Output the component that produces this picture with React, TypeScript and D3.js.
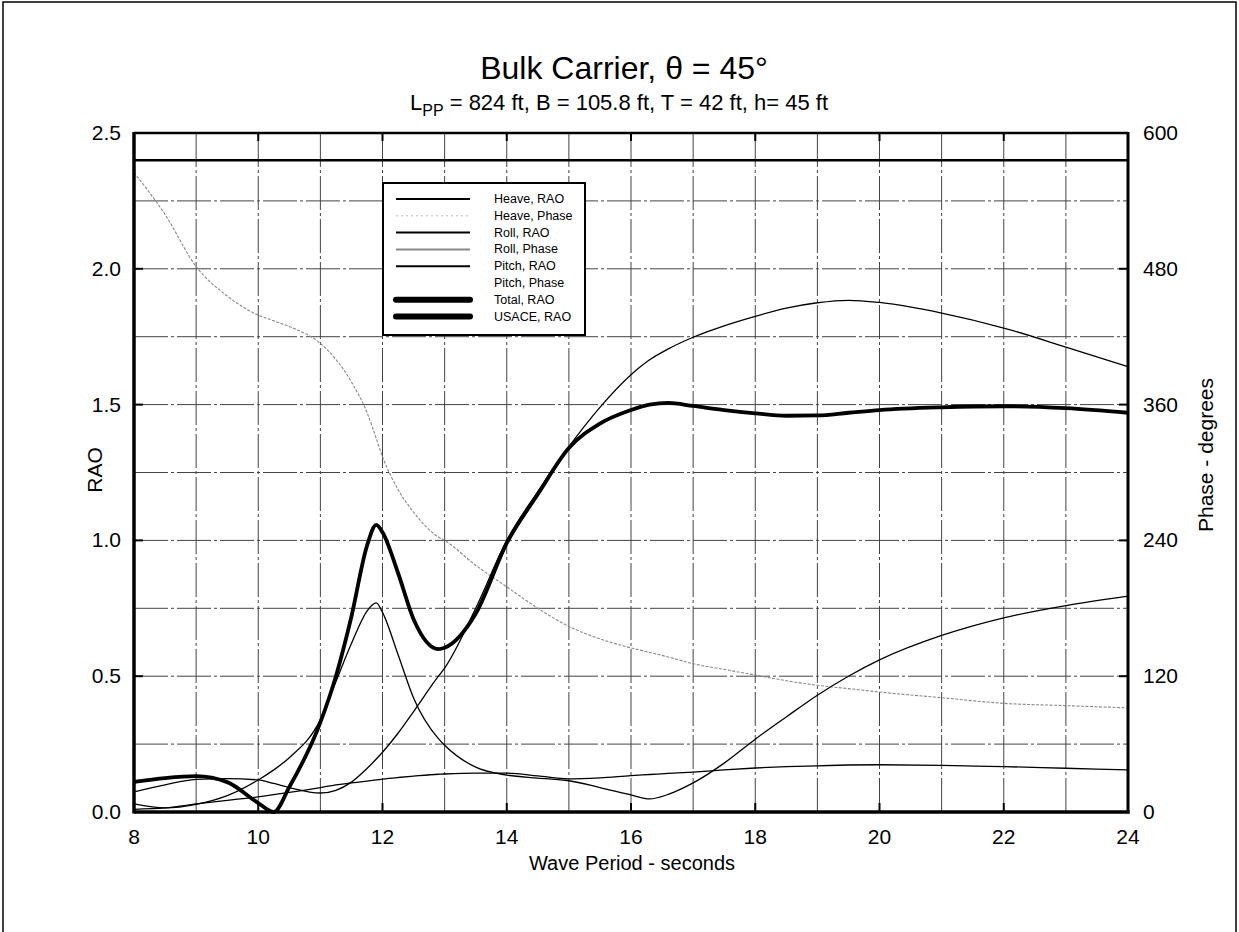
import React, { useEffect, useRef } from 'react';
import * as d3 from 'd3';

// wave periods (s) shared by all series
const periods = [8, 8.5, 9, 9.5, 10, 10.25, 10.5, 11, 11.25, 11.5, 11.75, 11.9, 12, 12.25, 12.5, 12.9, 13, 13.5, 14, 14.5, 15, 15.5, 16, 16.3, 16.6, 17, 17.5, 18, 18.5, 19, 19.5, 20, 21, 22, 23, 24];

const totalRao = [0.111, 0.125, 0.132, 0.11, 0.033, 0.0, 0.092, 0.33, 0.5, 0.72, 0.98, 1.057, 1.03, 0.88, 0.71, 0.6, 0.605, 0.73, 0.99, 1.17, 1.34, 1.43, 1.48, 1.5, 1.506, 1.495, 1.48, 1.468, 1.459, 1.46, 1.47, 1.48, 1.49, 1.494, 1.487, 1.47];
const heaveRao = [0.074, 0.1, 0.12, 0.123, 0.118, 0.105, 0.09, 0.07, 0.08, 0.11, 0.16, 0.195, 0.22, 0.29, 0.37, 0.5, 0.53, 0.75, 1.0, 1.18, 1.345, 1.49, 1.61, 1.665, 1.705, 1.748, 1.79, 1.825, 1.855, 1.875, 1.884, 1.876, 1.837, 1.782, 1.712, 1.64];
const rollRao = [0.03, 0.015, 0.028, 0.06, 0.118, 0.155, 0.2, 0.34, 0.48, 0.62, 0.74, 0.77, 0.735, 0.58, 0.42, 0.27, 0.246, 0.165, 0.136, 0.125, 0.115, 0.09, 0.063, 0.048, 0.065, 0.107, 0.18, 0.268, 0.35, 0.43, 0.5, 0.56, 0.65, 0.715, 0.76, 0.795];
const pitchRao = [0.01, 0.015, 0.03, 0.043, 0.056, 0.064, 0.072, 0.09, 0.1, 0.107, 0.114, 0.118, 0.121, 0.127, 0.132, 0.139, 0.14, 0.143, 0.143, 0.133, 0.122, 0.126, 0.134, 0.138, 0.142, 0.147, 0.155, 0.162, 0.167, 0.17, 0.173, 0.174, 0.172, 0.167, 0.161, 0.155];
// phases in degrees (right axis)
const heavePhase = [565, 528, 482, 456, 439, 434, 429, 414, 400, 380, 353, 330, 314, 285, 265, 243, 240, 218, 199, 180, 164, 153, 145, 141, 137, 131, 126, 121, 116, 112, 109, 106, 101, 96, 94, 92];
const pitchPhase = [576, 576, 576, 576, 576, 576, 576, 576, 576, 576, 576, 576, 576, 576, 576, 576, 576, 576, 576, 576, 576, 576, 576, 576, 576, 576, 576, 576, 576, 576, 576, 576, 576, 576, 576, 576];

const xTicks = [8, 10, 12, 14, 16, 18, 20, 22, 24];
const raoTicks = [0, 0.5, 1.0, 1.5, 2.0, 2.5];
const phaseTicks = [0, 120, 240, 360, 480, 600];

const legendItems = [
  { label: 'Heave, RAO', stroke: '#000', width: 2, dash: '' },
  { label: 'Heave, Phase', stroke: '#bbb', width: 1, dash: '2 3' },
  { label: 'Roll, RAO', stroke: '#000', width: 2, dash: '' },
  { label: 'Roll, Phase', stroke: '#888', width: 2, dash: '' },
  { label: 'Pitch, RAO', stroke: '#000', width: 2, dash: '' },
  { label: 'Pitch, Phase', stroke: '#fff', width: 2, dash: '' },
  { label: 'Total, RAO', stroke: '#000', width: 6, dash: '' },
  { label: 'USACE, RAO', stroke: '#000', width: 6, dash: '' },
];

const W = 1239;
const H = 932;
const FONT = '"Liberation Sans", Arial, sans-serif';

const App: React.FC = () => {
  const svgRef = useRef<SVGSVGElement>(null);

  useEffect(() => {
    if (!svgRef.current) return;
    const svg = d3.select(svgRef.current);
    svg.selectAll('*').remove();

    const left = 134, right = 1128, top = 133, bottom = 812;
    const x = d3.scaleLinear().domain([8, 24]).range([left, right]);
    const y = d3.scaleLinear().domain([0, 2.5]).range([bottom, top]);
    const yP = d3.scaleLinear().domain([0, 600]).range([bottom, top]);

    svg.append('rect').attr('width', W).attr('height', H).attr('fill', '#fff');
    // outer frame
    svg.append('path')
      .attr('d', `M3,${H} V2 H1236 V${H}`)
      .attr('fill', 'none').attr('stroke', '#000').attr('stroke-width', 1.5);

    // grid
    const grid = svg.append('g').attr('stroke', '#444').attr('stroke-width', 1).attr('stroke-dasharray', '34 3 3 3');
    d3.range(9, 24).forEach(v => {
      grid.append('line').attr('x1', x(v)).attr('x2', x(v)).attr('y1', top).attr('y2', bottom);
    });
    d3.range(0.25, 2.5, 0.25).forEach(v => {
      grid.append('line').attr('x1', left).attr('x2', right).attr('y1', y(v)).attr('y2', y(v));
    });

    // series
    const raoLine = (vals: number[]) => d3.line<number>()
      .x((_, i) => x(periods[i]))
      .y(d => y(d))
      .curve(d3.curveMonotoneX)(vals);
    const phaseLine = (vals: number[]) => d3.line<number>()
      .x((_, i) => x(periods[i]))
      .y(d => yP(d))
      .curve(d3.curveMonotoneX)(vals);

    const g = svg.append('g').attr('fill', 'none');
    g.append('path').attr('d', phaseLine(heavePhase)).attr('stroke', '#888').attr('stroke-width', 1.1).attr('stroke-dasharray', '3 1.5');
    g.append('path').attr('d', phaseLine(pitchPhase)).attr('stroke', '#000').attr('stroke-width', 2.5);
    g.append('path').attr('d', raoLine(pitchRao)).attr('stroke', '#000').attr('stroke-width', 1.3);
    g.append('path').attr('d', raoLine(rollRao)).attr('stroke', '#000').attr('stroke-width', 1.3);
    g.append('path').attr('d', raoLine(heaveRao)).attr('stroke', '#000').attr('stroke-width', 1.3);
    g.append('path').attr('d', raoLine(totalRao)).attr('stroke', '#000').attr('stroke-width', 3.8).attr('stroke-linejoin', 'round');

    // axes frame
    svg.append('line').attr('x1', left).attr('x2', right).attr('y1', top).attr('y2', top).attr('stroke', '#000').attr('stroke-width', 2.5);
    svg.append('line').attr('x1', left).attr('x2', right + 1.5).attr('y1', bottom).attr('y2', bottom).attr('stroke', '#000').attr('stroke-width', 3.5);
    svg.append('line').attr('x1', left).attr('x2', left).attr('y1', top - 1).attr('y2', bottom + 1.5).attr('stroke', '#000').attr('stroke-width', 3.5);
    svg.append('line').attr('x1', right).attr('x2', right).attr('y1', top - 1).attr('y2', bottom + 1.5).attr('stroke', '#000').attr('stroke-width', 3);

    // ticks (inward)
    const ticks = svg.append('g').attr('stroke', '#000').attr('stroke-width', 2);
    xTicks.forEach(v => {
      ticks.append('line').attr('x1', x(v)).attr('x2', x(v)).attr('y1', bottom).attr('y2', bottom - 9);
      ticks.append('line').attr('x1', x(v)).attr('x2', x(v)).attr('y1', top).attr('y2', top + 8);
    });
    raoTicks.forEach(v => {
      ticks.append('line').attr('x1', left).attr('x2', left + 9).attr('y1', y(v)).attr('y2', y(v));
    });
    phaseTicks.forEach(v => {
      ticks.append('line').attr('x1', right).attr('x2', right - 9).attr('y1', yP(v)).attr('y2', yP(v));
    });

    const txt = svg.append('g').attr('font-family', FONT).attr('fill', '#000');
    xTicks.forEach(v => {
      txt.append('text').attr('x', x(v)).attr('y', 844).attr('text-anchor', 'middle').attr('font-size', 21).text(v);
    });
    raoTicks.forEach(v => {
      txt.append('text').attr('x', 121).attr('y', y(v) + 7).attr('text-anchor', 'end').attr('font-size', 21).text(v.toFixed(1));
    });
    phaseTicks.forEach(v => {
      txt.append('text').attr('x', 1143).attr('y', yP(v) + 7).attr('text-anchor', 'start').attr('font-size', 21).text(v);
    });

    txt.append('text').attr('x', 632).attr('y', 870).attr('text-anchor', 'middle').attr('font-size', 20).text('Wave Period - seconds');
    txt.append('text').attr('transform', 'translate(102,470) rotate(-90)').attr('text-anchor', 'middle').attr('font-size', 21).text('RAO');
    txt.append('text').attr('transform', 'translate(1213,455) rotate(-90)').attr('text-anchor', 'middle').attr('font-size', 21).text('Phase - degrees');

    txt.append('text').attr('x', 624).attr('y', 79).attr('text-anchor', 'middle').attr('font-size', 32).text('Bulk Carrier, \u03B8 = 45\u00B0');
    const sub = txt.append('text').attr('x', 619).attr('y', 110).attr('text-anchor', 'middle').attr('font-size', 22);
    sub.append('tspan').text('L');
    sub.append('tspan').attr('dy', 6).attr('font-size', 16).text('PP');
    sub.append('tspan').attr('dy', -6).text(' = 824 ft, B = 105.8 ft, T = 42 ft, h= 45 ft');

    // legend
    const lg = svg.append('g');
    lg.append('rect').attr('x', 383).attr('y', 183).attr('width', 202).attr('height', 152)
      .attr('fill', '#fff').attr('stroke', '#000').attr('stroke-width', 2);
    legendItems.forEach((it, i) => {
      const ly = 199 + i * 16.8;
      lg.append('line').attr('x1', 396).attr('x2', 470).attr('y1', ly).attr('y2', ly)
        .attr('stroke', it.stroke).attr('stroke-width', it.width)
        .attr('stroke-linecap', it.width > 3 ? 'round' : 'butt')
        .attr('stroke-dasharray', it.dash || null);
      lg.append('text').attr('x', 494).attr('y', ly + 4).attr('font-family', FONT).attr('font-size', 12.5).text(it.label);
    });
  }, []);

  return (
    <svg
      ref={svgRef}
      width={W}
      height={H}
      style={{ position: 'absolute', left: 0, top: 0 }}
    />
  );
};

export default App;
